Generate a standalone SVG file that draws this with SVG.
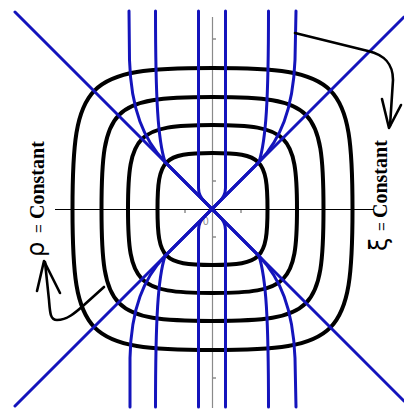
<svg xmlns="http://www.w3.org/2000/svg" width="404" height="409" viewBox="0 0 404 409">
<style>
.ax{stroke:#000;stroke-width:1;fill:none}
.axv{stroke:#8a8a8a;stroke-width:1.2;fill:none}
.tk{stroke:#555;stroke-width:1;fill:none}
.rho{stroke:#000;stroke-width:4;fill:none}
.xi{stroke:#1414bc;stroke-width:3;fill:none;stroke-linejoin:round;stroke-linecap:round}
.arr{stroke:#000;stroke-width:2.6;fill:none;stroke-linejoin:round;stroke-linecap:round}
.lbl{font-family:"Liberation Serif","Times New Roman",serif;fill:#000}
.greek{font-family:"DejaVu Sans","Liberation Sans",sans-serif;font-size:24px}
.eq{font-family:"Liberation Sans",Arial,sans-serif;font-size:15px}
.word{font-weight:bold;font-size:20px}
.zero{font-family:"Liberation Sans",Arial,sans-serif;font-size:10px;fill:#888}
</style>
<rect width="404" height="409" fill="#fff"/>
<g id="axes">
<line class="ax" x1="55" y1="209.5" x2="374" y2="209.5"/>
<line class="axv" x1="212.5" y1="17" x2="212.5" y2="408"/>
<path class="tk" d="M213 39h3M213 181h3M213 237h3M213 378h3M185 210v3M241 210v3"/>
<text class="zero" x="203" y="225">0</text>
</g>
<g id="rho-curves">
<path class="rho" d="M352.5 209C352.5 337.3 339.9 350 212.5 350C85.1 350 72.5 337.3 72.5 209C72.5 80.7 85.1 68 212.5 68C339.9 68 352.5 80.7 352.5 209Z"/>
<path class="rho" d="M323.5 209C323.5 310.9 313.5 321 212.5 321C111.5 321 101.5 310.9 101.5 209C101.5 107.1 111.5 97 212.5 97C313.5 97 323.5 107.1 323.5 209Z"/>
<path class="rho" d="M297 209C297 283.8 287.7 293 212.5 293C137.3 293 128 283.8 128 209C128 134.2 137.3 125 212.5 125C287.7 125 297 134.2 297 209Z"/>
<path class="rho" d="M267.5 209C267.5 258.8 261.5 265 212.5 265C163.5 265 157.5 258.8 157.5 209C157.5 159.2 163.5 153 212.5 153C261.5 153 267.5 159.2 267.5 209Z"/>
</g>
<g id="xi-curves">
<line class="xi" x1="15" y1="12" x2="404" y2="401"/>
<line class="xi" x1="15" y1="406" x2="404" y2="17"/>
<path class="xi" d="M225.5 11L225.5 188Q225.5 196 219 202L212 209"/>
<path class="xi" d="M268.5 11C268.5 100 266 140 259 162L212 209"/>
<path class="xi" d="M296 11L295 60C293 110 280 140 259 162L212 209"/>
<path class="xi" d="M198.5 11L198.5 188Q198.5 196 205 202L212 209"/>
<path class="xi" d="M155.5 11C155.5 100 158 140 165 162L212 209"/>
<path class="xi" d="M129 11L129.5 60C131 110 144 140 165 162L212 209"/>
<path class="xi" d="M225.5 407L225.5 230Q225.5 222 219 216L212 209"/>
<path class="xi" d="M268.5 407C268.5 318 266 278 259 256L212 209"/>
<path class="xi" d="M296 407L295 358C293 308 280 278 259 256L212 209"/>
<path class="xi" d="M198.5 407L198.5 230Q198.5 222 205 216L212 209"/>
<path class="xi" d="M155.5 407C155.5 318 158 278 165 256L212 209"/>
<path class="xi" d="M130 407L130 358C131 308 144 278 165 256L212 209"/>
</g>
<g id="connectors">
<path class="arr" d="M295 33L368 51C385 55 393 64 393 80L390 126"/>
<path class="arr" d="M382 99L389 128L401 105"/>
<path class="arr" d="M104 287L84 305C75 313 67 320 57 320C50 320 50 312 49 300L45 262"/>
<path class="arr" d="M37 291L44 261L60 293"/>
</g>
<g id="label-rho">
<text class="lbl" transform="translate(44 257) rotate(-90)"><tspan class="greek">ρ</tspan><tspan class="eq" x="24">=</tspan><tspan class="word" x="38">Constant</tspan></text>
</g>
<g id="label-xi">
<text class="lbl" transform="translate(387 251) rotate(-90)"><tspan class="greek">ξ</tspan><tspan class="eq" x="20">=</tspan><tspan class="word" x="33">Constant</tspan></text>
</g>
</svg>
